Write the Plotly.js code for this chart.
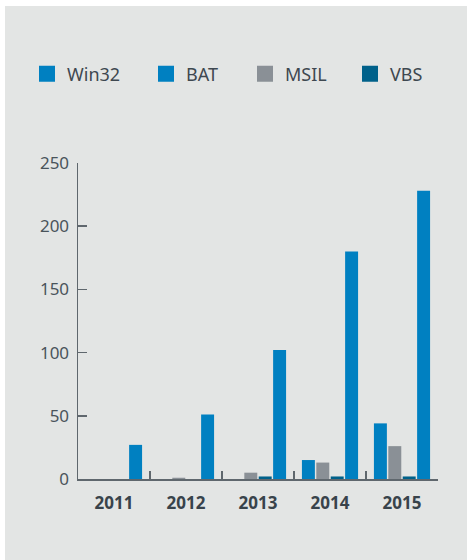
<!DOCTYPE html>
<html>
<head>
<meta charset="utf-8">
<script src="https://cdn.plot.ly/plotly-3.0.1.min.js"></script>
<style>
  html, body { margin: 0; padding: 0; background: #ffffff; }
  #chart { position: absolute; left: 5px; top: 6px; width: 462px; height: 554px; background: #E3E5E4; }
</style>
</head>
<body>
<div id="chart"></div>
<script>
const years = ['2011', '2012', '2013', '2014', '2015'];
const win32 = [0, 0, 0, 15, 44];
const bat   = [27, 51, 102, 180, 228];
const msil  = [0, 1, 5, 13, 26];
const vbs   = [0, 0, 2, 2, 2];

const names  = ['Win32', 'BAT', 'MSIL', 'VBS'];
const colors = {Win32: '#0080C1', BAT: '#0080C1', MSIL: '#8A9096', VBS: '#00618A'};
// bar order inside each year group
const barOrder = [['Win32', win32], ['MSIL', msil], ['VBS', vbs], ['BAT', bat]];

const traces = [];
barOrder.forEach(function (p) {
  traces.push({
    type: 'bar', name: p[0], x: years, y: p[1],
    marker: {color: colors[p[0]]}, showlegend: false, legendgroup: p[0],
    hoverinfo: 'x+y+name'
  });
});
// legend entries (order Win32, BAT, MSIL, VBS), one legend box each
const legendIds = ['legend', 'legend2', 'legend3', 'legend4'];
names.forEach(function (n, i) {
  traces.push({
    type: 'scatter', mode: 'markers', name: n, x: [null], y: [null],
    marker: {symbol: 'square', size: 18, color: colors[n]},
    legendgroup: n, legend: legendIds[i], showlegend: true
  });
});

const axisColor = '#5F676D';
const layout = {
  width: 462, height: 554,
  paper_bgcolor: '#E3E5E4', plot_bgcolor: '#E3E5E4',
  margin: {l: 73, r: 29, t: 157, b: 81},
  font: {family: 'Noto Sans, Open Sans, sans-serif', color: '#3E4850'},
  barmode: 'group', bargap: 0.2, bargroupgap: 0.1,
  showlegend: true,
  xaxis: {
    type: 'category', showgrid: false, zeroline: false,
    showline: true, linecolor: axisColor, linewidth: 2,
    ticks: 'inside', tickson: 'boundaries', ticklen: 8, tickcolor: axisColor, tickwidth: 1.5,
    tickfont: {size: 17, color: '#38434B', weight: 'bold'}, ticklabelstandoff: 8,
    fixedrange: true
  },
  yaxis: {
    range: [0, 250], tickvals: [0, 50, 100, 150, 200, 250],
    showgrid: false, zeroline: false,
    showline: true, linecolor: axisColor, linewidth: 1.5,
    ticks: 'inside', ticklen: 9, tickcolor: axisColor, tickwidth: 1.5,
    tickfont: {size: 17, color: '#4A545B'}, ticklabelstandoff: 4,
    fixedrange: true
  }
};
// legend box left edges in px (container)
const legendX = [22, 141, 240, 345];
legendIds.forEach(function (id, i) {
  layout[id] = {
    orientation: 'h', xref: 'container', yref: 'container',
    x: legendX[i] / 462, xanchor: 'left', y: 1 - 68 / 554, yanchor: 'middle',
    font: {size: 18, color: '#3E4850'}, itemsizing: 'trace', bgcolor: 'rgba(0,0,0,0)'
  };
});
Plotly.newPlot('chart', traces, layout, {displayModeBar: false, staticPlot: true});
</script>
</body>
</html>
